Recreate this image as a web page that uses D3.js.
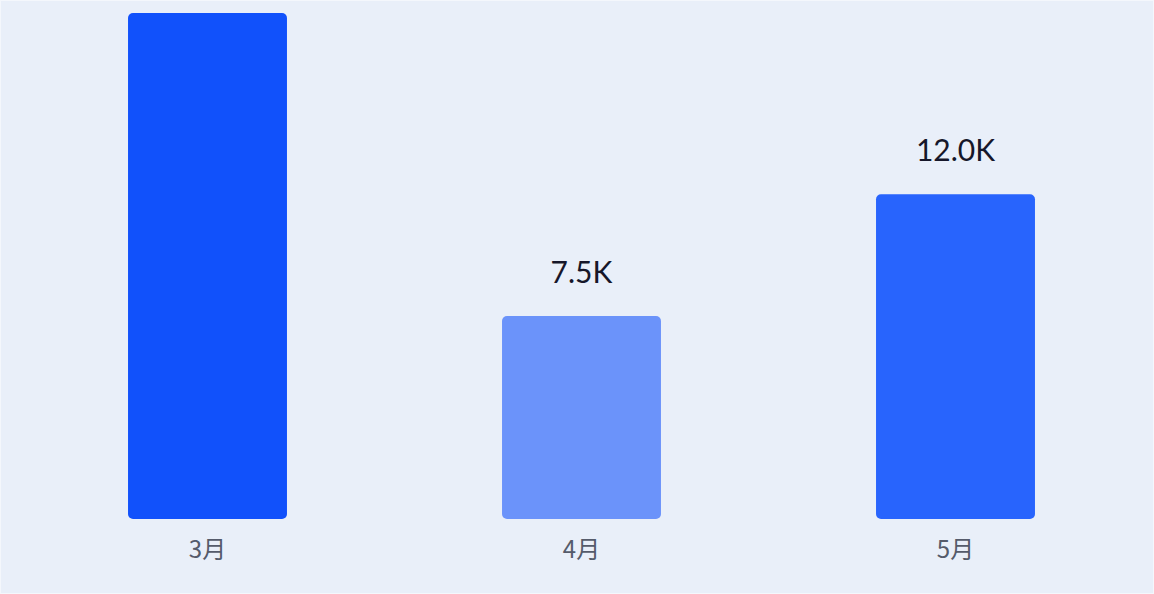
<!DOCTYPE html>
<html>
<head>
<meta charset="utf-8">
<script src="https://cdn.jsdelivr.net/npm/d3@7"></script>
<style>
  html, body { margin: 0; padding: 0; background: #e9eff9; }
  svg { display: block; }
</style>
</head>
<body>
<script>
// data
const months = ["3月", "4月", "5月"];
const values = [18.7, 7.5, 12.0];   // in K
const labels = ["18.7K", "7.5K", "12.0K"];
const colors = ["#1151fb", "#6b93fa", "#2864fd"];

const width = 1154, height = 594;
const svg = d3.select("body").append("svg")
  .attr("width", width).attr("height", height);

svg.append("rect").attr("x", 0.5).attr("y", 0.5)
  .attr("width", width - 1).attr("height", height - 1)
  .attr("fill", "#e9eff9").attr("stroke", "#f4f7fc");

const x = d3.scaleBand().domain(months).range([20.5, 1142.5])
  .paddingInner(0.575).paddingOuter(0.2875);
const y = d3.scaleLinear().domain([0, 19]).range([519, 5]);

const rows = months.map((m, i) => ({ m: m, v: values[i], label: labels[i], color: colors[i] }));

svg.append("g").selectAll("rect").data(rows).enter()
  .append("rect")
  .attr("x", d => x(d.m))
  .attr("y", d => y(d.v))
  .attr("width", x.bandwidth())
  .attr("height", d => y(0) - y(d.v))
  .attr("rx", 5)
  .attr("fill", d => d.color);

// value labels, the 3月 one sits above the visible area so it's left out
svg.append("g").selectAll("text").data(rows.filter(d => y(d.v) - 33 > 25)).enter()
  .append("text")
  .attr("x", d => x(d.m) + x.bandwidth() / 2)
  .attr("y", d => y(d.v) - 33)
  .attr("text-anchor", "middle")
  .attr("font-family", "Lato, 'Noto Sans', sans-serif")
  .attr("font-size", 30)
  .attr("fill", "#16172a")
  .text(d => d.label);

// x axis labels
const xAxis = svg.append("g").attr("transform", "translate(0,519)")
  .call(d3.axisBottom(x).tickSize(0).tickPadding(22));
xAxis.select(".domain").remove();
xAxis.selectAll("text")
  .attr("font-family", "'Noto Sans CJK SC', 'Noto Sans', sans-serif")
  .attr("font-size", 24)
  .attr("fill", "#555b6b");
</script>
</body>
</html>
